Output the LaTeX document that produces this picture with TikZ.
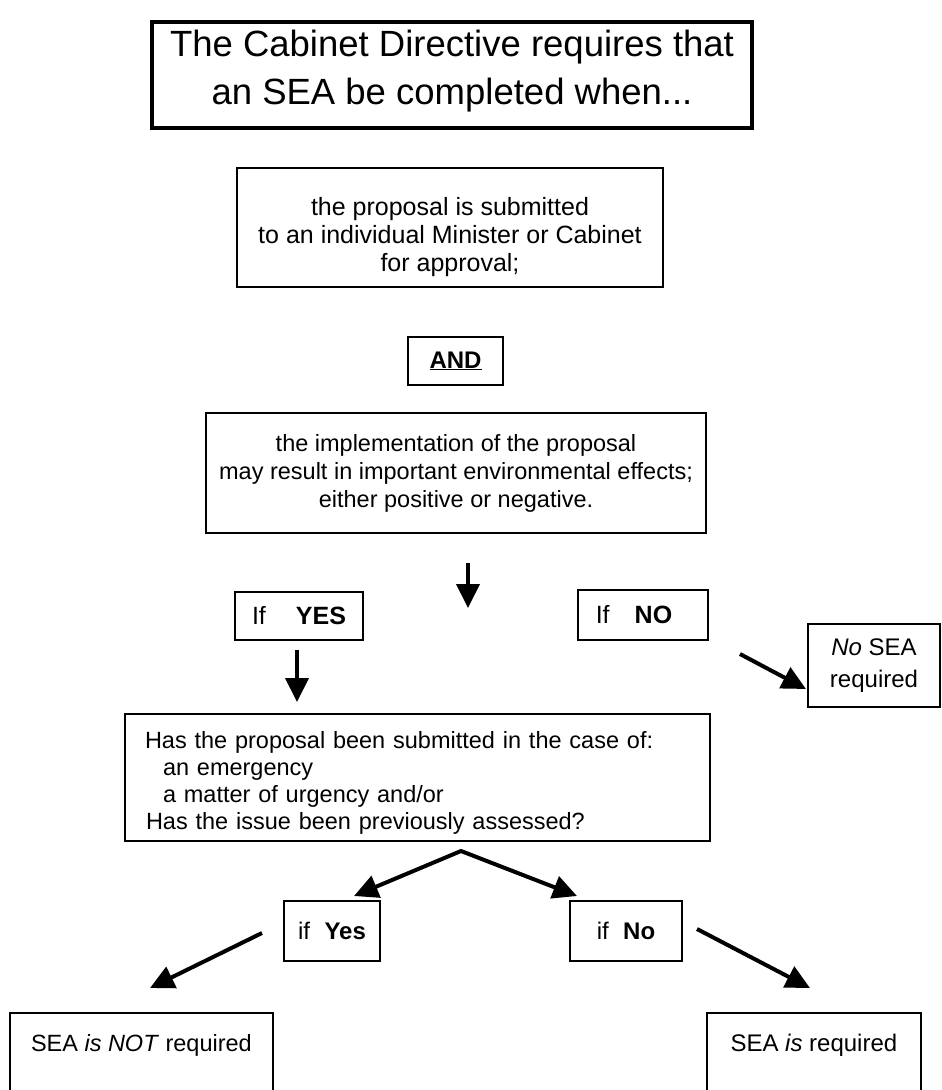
\documentclass[tikz,border=0pt]{standalone}
\usepackage{fontspec}
\setmainfont{Liberation Sans}
\usetikzlibrary{arrows.meta}
\begin{document}
\begin{tikzpicture}[x=1pt,y=-1pt,
  box/.style={draw, line width=1.8pt, inner sep=0pt, align=center, font=\fontsize{24}{28}\selectfont},
  arr/.style={line width=4pt, -{Triangle[length=24pt,width=23pt]}},
  fork/.style={line width=4pt, line join=miter, {Triangle[length=24pt,width=23pt]}-{Triangle[length=24pt,width=23pt]}},
]
\useasboundingbox (0,0) rectangle (942,1090);
\node[box, line width=4.5pt, minimum width=600, minimum height=106, font=\fontsize{36.5}{48}\selectfont] (title) at (452,75) {The Cabinet Directive requires that\\an SEA be completed when...\rule[-15pt]{0pt}{0pt}};
\node[box, minimum width=426, minimum height=119, font=\fontsize{25}{28}\selectfont] (submit) at (450,227.5) {\rule{0pt}{38pt}the proposal is submitted\\to an individual Minister or Cabinet\\for approval;};
\node[box, minimum width=95, minimum height=48] (and) at (455.5,361) {\textbf{\underline{AND}}};
\node[box, minimum width=500, minimum height=120, font=\fontsize{23.5}{28}\selectfont] (impl) at (456,473) {the implementation of the proposal\\may result in important environmental effects;\\either positive or negative.};
\node[box, minimum width=128, minimum height=48, font=\fontsize{25}{28}\selectfont] (ifyes) at (299,616) {If\hspace{1.2em}\textbf{YES}};
\node[box, minimum width=130, minimum height=50, font=\fontsize{25}{28}\selectfont] (ifno) at (643,615) {If\hspace{1.0em}\textbf{NO}\hspace{18pt}};
\node[box, minimum width=132, minimum height=83, font=\fontsize{24}{32}\selectfont] (nosea) at (874,665.5) {\textit{No} SEA\\required};
\node[box, minimum width=585, minimum height=127, text width=545, align=left, font=\fontsize{23.5}{27}\selectfont] (case) at (417.5,777.5) {\rule{0pt}{27pt}Has the proposal been submitted in the case of:\\
\hspace*{18pt}an emergency\\
\hspace*{18pt}a matter of urgency and/or\\
\hspace*{1pt}Has the issue been previously assessed?};
\node[box, minimum width=96, minimum height=60] (ifyes2) at (332,931) {if\hspace{0.6em}\textbf{Yes}};
\node[box, minimum width=112, minimum height=60] (ifno2) at (626,931) {if\hspace{0.6em}\textbf{No}};
\node[box, anchor=north west, minimum width=263, text height=17, text depth=60, inner ysep=22, font=\fontsize{23.5}{28}\selectfont] (notreq) at (9,1012) {SEA \textit{is NOT} required};
\node[box, anchor=north west, minimum width=214, text height=17, text depth=60, inner ysep=22] (req) at (706,1012) {SEA \textit{is} required};
% connector end points
\coordinate (d1) at (468,563); \coordinate (d2) at (468,608);
\coordinate (n1) at (740,654); \coordinate (n2) at (806,689);
\coordinate (y1) at (297,650); \coordinate (y2) at (297,702);
\coordinate (apex) at (461,851); \coordinate (fl) at (354,896); \coordinate (fr) at (577,896);
\coordinate (l1) at (262,933); \coordinate (l2) at (150,988);
\coordinate (r1) at (697,929); \coordinate (r2) at (810,988);
\draw[arr] (d1) -- (d2);
\draw[arr] (n1) -- (n2);
\draw[arr] (y1) -- (y2);
\draw[fork] (fl) -- (apex) -- (fr);
\draw[arr] (l1) -- (l2);
\draw[arr] (r1) -- (r2);
\end{tikzpicture}
\end{document}
